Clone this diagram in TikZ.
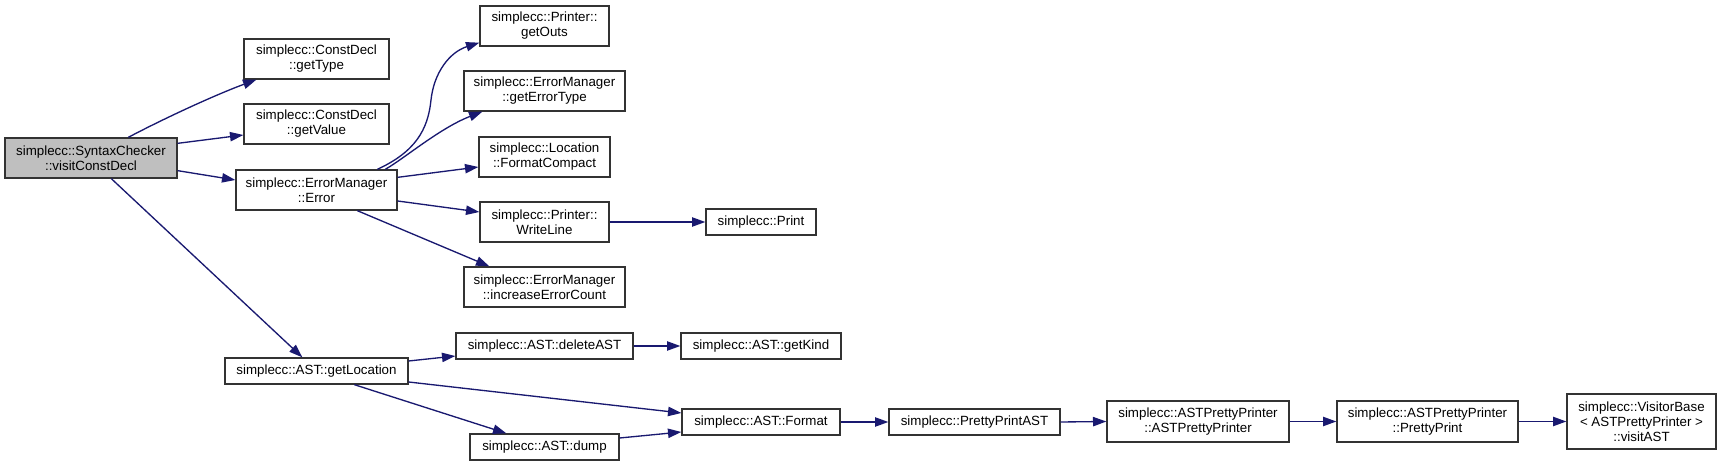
\documentclass[tikz,border=0pt]{standalone}
\usepackage{fontspec}
\setmainfont{Liberation Sans}
\usetikzlibrary{arrows.meta,calc}
\definecolor{edgeblue}{HTML}{191970}
\definecolor{mainfill}{HTML}{BFBFBF}
\definecolor{boxline}{HTML}{333333}
\begin{document}
\begin{tikzpicture}[x=0.75pt,y=-0.75pt,
  box/.style={draw=boxline,line width=1pt,fill=white,inner sep=0pt,align=center,
    font=\fontsize{10pt}{11.2pt}\selectfont},
  mainbox/.style={box,fill=mainfill},
  call/.style={draw=edgeblue,line width=1pt,-{Triangle[length=10pt,width=7pt]}}]
\useasboundingbox (0,0) rectangle (1721,466);

% nodes
\node[mainbox,minimum width=129pt,minimum height=30pt] (sc) at (91,158) {simplecc::SyntaxChecker\\::visitConstDecl};
\node[box,minimum width=108.75pt,minimum height=30pt] (gettype) at (316.5,59) {simplecc::ConstDecl\\::getType};
\node[box,minimum width=108.75pt,minimum height=30pt] (getvalue) at (316.5,124) {simplecc::ConstDecl\\::getValue};
\node[box,minimum width=120.75pt,minimum height=30pt] (error) at (316.5,190) {simplecc::ErrorManager\\::Error};
\node[box,minimum width=96.75pt,minimum height=30pt] (getouts) at (544.5,26) {simplecc::Printer::\\getOuts};
\node[box,minimum width=120.75pt,minimum height=30pt] (geterrortype) at (544.5,91) {simplecc::ErrorManager\\::getErrorType};
\node[box,minimum width=98.25pt,minimum height=30pt] (formatcompact) at (544.5,157) {simplecc::Location\\::FormatCompact};
\node[box,minimum width=96.75pt,minimum height=30pt] (writeline) at (544.5,222) {simplecc::Printer::\\WriteLine};
\node[box,minimum width=120.75pt,minimum height=30pt] (increase) at (544.5,287) {simplecc::ErrorManager\\::increaseErrorCount};
\node[box,minimum width=82.5pt,minimum height=19.5pt] (print) at (761,222) {simplecc::Print};
\node[box,minimum width=137.25pt,minimum height=19.5pt] (getlocation) at (316.5,371) {simplecc::AST::getLocation};
\node[box,minimum width=132.75pt,minimum height=19.5pt] (deleteast) at (544.5,346) {simplecc::AST::deleteAST};
\node[box,minimum width=120pt,minimum height=19.5pt] (getkind) at (761,346) {simplecc::AST::getKind};
\node[box,minimum width=118.5pt,minimum height=19.5pt] (format) at (761,422) {simplecc::AST::Format};
\node[box,minimum width=111.75pt,minimum height=19.5pt] (dump) at (544.5,447) {simplecc::AST::dump};
\node[box,minimum width=128.25pt,minimum height=19.5pt] (ppast) at (974.5,422) {simplecc::PrettyPrintAST};
\node[box,minimum width=136.5pt,minimum height=30.75pt] (astpp) at (1198,421.5) {simplecc::ASTPrettyPrinter\\::ASTPrettyPrinter};
\node[box,minimum width=135.75pt,minimum height=30.75pt] (prettyprint) at (1427.5,421.5) {simplecc::ASTPrettyPrinter\\::PrettyPrint};
\node[box,minimum width=111.75pt,minimum height=41.25pt] (visitast) at (1641.5,421.5) {simplecc::VisitorBase\\< ASTPrettyPrinter >\\::visitAST};

% connectors
\draw[call] ($(sc.north west)+(124,0)$) .. controls (165,118) and (215,95) .. ($(gettype.south west)+(13,0)$);
\draw[call] ($(sc.north east)+(0,6)$) -- ($(getvalue.west)+(0,11)$);
\draw[call] ($(sc.south east)+(0,-8)$) -- ($(error.west)+(0,-10)$);
\draw[call] ($(sc.south west)+(107,0)$) -- ($(getlocation.north west)+(78,0)$);

\draw[call] ($(error.north west)+(142,0)$) .. controls (415,152) and (428,130) .. (431,100) .. controls (434,72) and (450,52) .. ($(getouts.south west)+(0,-4)$);
\draw[call] ($(error.north west)+(150,0)$) .. controls (405,158) and (440,128) .. ($(geterrortype.south west)+(19,0)$);
\draw[call] ($(error.north east)+(0,8)$) -- ($(formatcompact.west)+(0,10)$);
\draw[call] ($(error.east)+(0,11)$) -- ($(writeline.west)+(0,-10)$);
\draw[call] ($(error.south west)+(122,0)$) -- ($(increase.north west)+(26,0)$);
\draw[call] (writeline.east) -- (print.west);

\draw[call] ($(getlocation.east)+(0,-10)$) -- ($(deleteast.west)+(0,10)$);
\draw[call] ($(getlocation.east)+(0,11)$) -- ($(format.west)+(0,-9)$);
\draw[call] ($(getlocation.south west)+(130,0)$) -- ($(dump.north west)+(37,0)$);
\draw[call] ($(dump.east)+(0,-9)$) -- ($(format.west)+(0,10)$);
\draw[call] (deleteast.east) -- (getkind.west);
\draw[call] (format.east) -- (ppast.west);
\draw[call] (ppast.east) -- (astpp.west);
\draw[call] (astpp.east) -- (prettyprint.west);
\draw[call] (prettyprint.east) -- (visitast.west);
\end{tikzpicture}
\end{document}
